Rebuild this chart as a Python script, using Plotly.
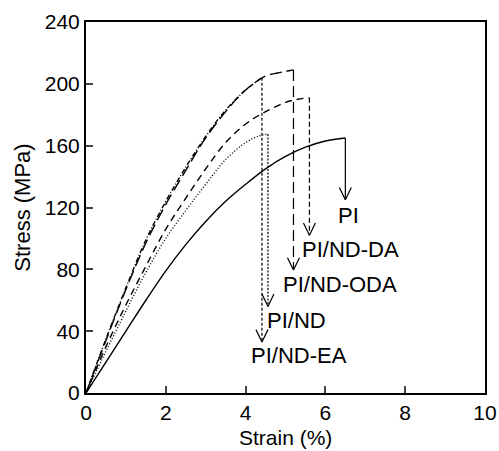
import plotly.graph_objects as go

# ---- data ----
pi_strain = [0, 0.5, 1.0, 1.5, 2.0, 2.5, 3.0, 3.5, 4.0, 4.5, 5.0, 5.5, 6.0, 6.5]
pi_stress = [0, 20, 40, 60, 79, 96, 111, 124, 135, 145, 153, 159, 163, 165]

da_strain = [0, 0.5, 1.0, 1.5, 2.0, 2.5, 3.0, 3.5, 4.0, 4.5, 5.0, 5.3, 5.6]
da_stress = [0, 30, 57, 82, 106, 126, 145, 162, 174, 182, 188, 190, 191]

oda_strain = [0, 0.5, 1.0, 1.5, 2.0, 2.5, 3.0, 3.5, 4.0, 4.5, 4.8, 5.0, 5.2]
oda_stress = [0, 34, 67, 97, 122, 144, 165, 182, 196, 205, 207, 208, 209]

nd_strain = [0, 0.5, 1.0, 1.5, 2.0, 2.5, 3.0, 3.5, 4.0, 4.3, 4.56]
nd_stress = [0, 27, 53, 78, 100, 118, 135, 151, 162, 166, 167.5]

ea_strain = [0, 0.5, 1.0, 1.5, 2.0, 2.5, 3.0, 3.5, 4.0, 4.2, 4.41]
ea_stress = [0, 35, 68, 99, 124, 146, 166, 183, 196, 200, 204]

names = ["PI", "PI/ND-DA", "PI/ND-ODA", "PI/ND", "PI/ND-EA"]
drop_end = [125, 102, 79.5, 56, 33]   # stress at arrow tips

x_ticks = [0, 2, 4, 6, 8, 10]
y_ticks = [0, 40, 80, 120, 160, 200, 240]
x_title = "Strain (%)"
y_title = "Stress (MPa)"

series = [
    (pi_strain, pi_stress, "solid", "solid"),
    (da_strain, da_stress, "7px,5px", "5px,3px"),
    (oda_strain, oda_stress, "12px,5px", "11px,5px"),
    (nd_strain, nd_stress, "1px,2px", "2px,1.5px"),
    (ea_strain, ea_stress, "5px,2px,1px,2px", "3px,2px"),
]

fig = go.Figure()
head_dx = 0.15
head_dy = 8
for (xs, ys, dash, vdash), nm, yend in zip(series, names, drop_end):
    fig.add_trace(go.Scatter(x=xs, y=ys, mode="lines", name=nm,
                             line=dict(color="black", width=1.4, dash=dash, shape="spline"),
                             showlegend=False, hoverinfo="skip"))
    xb, yb = xs[-1], ys[-1]
    fig.add_trace(go.Scatter(x=[xb, xb], y=[yb, yend], mode="lines",
                             line=dict(color="black", width=1.2, dash=vdash),
                             showlegend=False, hoverinfo="skip"))
    fig.add_trace(go.Scatter(x=[xb - head_dx, xb, xb + head_dx],
                             y=[yend + head_dy, yend, yend + head_dy],
                             mode="lines", line=dict(color="black", width=1.2),
                             showlegend=False, hoverinfo="skip"))

label_font = dict(family="Liberation Sans, Arial", size=22, color="black")
label_pos = [(6.59, 115), (6.62, 93), (6.37, 70), (5.27, 47), (5.33, 24)]
for nm, (lx, ly) in zip(names, label_pos):
    fig.add_annotation(x=lx, y=ly, text=nm, showarrow=False, font=label_font,
                       xanchor="center", yanchor="middle")

tick_font = dict(family="Liberation Sans, Arial", size=21, color="black")
title_font = dict(family="Liberation Sans, Arial", size=22, color="black")
# x-axis title placed as a text annotation below the tick labels
fig.add_annotation(x=0.5, y=0, xref="paper", yref="paper", text=x_title, showarrow=False,
                   font=dict(family="Liberation Sans, Arial", size=21, color="black"),
                   xanchor="center", yanchor="top", yshift=-32, borderpad=0)

fig.update_xaxes(range=[0, 10], tickvals=x_ticks, ticks="inside", ticklen=7, tickwidth=1.6,
                 showline=True, linewidth=2, linecolor="black", mirror=True, automargin=False,
                 showgrid=False, zeroline=False, tickfont=tick_font)
fig.update_yaxes(range=[0, 240], tickvals=y_ticks, ticks="inside", ticklen=7, tickwidth=1.6,
                 showline=True, linewidth=2, linecolor="black", mirror=True, automargin=False,
                 showgrid=False, zeroline=False, tickfont=tick_font,
                 title=dict(text=y_title, font=title_font, standoff=8))
fig.update_layout(width=499, height=451, margin=dict(l=86, r=14, t=22, b=58),
                  plot_bgcolor="white", paper_bgcolor="white")

# remove the default page margin so the figure fills the window exactly
reset_js = "document.body.style.margin='0';document.body.style.overflow='hidden';"
fig.write_html("out.html", post_script=reset_js, config={"displayModeBar": False})
